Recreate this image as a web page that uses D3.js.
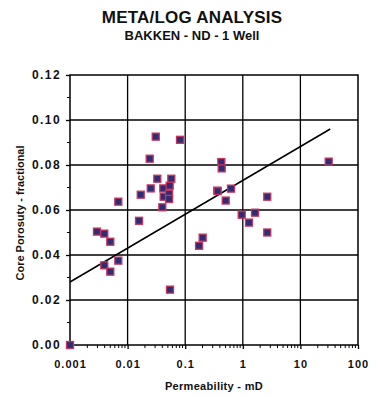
<!DOCTYPE html>
<html>
<head>
<meta charset="utf-8">
<script src="https://cdn.jsdelivr.net/npm/d3@7"></script>
<style>
  body { margin: 0; background: #fff; }
  text { font-family: "Liberation Sans", Arial, sans-serif; fill: #111; }
</style>
</head>
<body>
<svg id="chart" width="379" height="398"></svg>
<script>
// permeability (mD) and core porosity (fraction)
const perm = [0.001, 0.00294, 0.00394, 0.00394, 0.00501, 0.00501, 0.0069, 0.0069,
  0.0158, 0.0169, 0.0242, 0.0252, 0.0308, 0.0328, 0.0401, 0.0417, 0.0423, 0.0524,
  0.0525, 0.0538, 0.0545, 0.0574, 0.0813, 0.174, 0.201, 0.36, 0.366, 0.424, 0.43,
  0.505, 0.624, 0.957, 1.28, 1.63, 2.66, 2.66, 31];
const poro = [0.000, 0.0504, 0.0495, 0.0354, 0.0459, 0.0326, 0.0637, 0.0375,
  0.0552, 0.0668, 0.0828, 0.0696, 0.0926, 0.0739, 0.0612, 0.0696, 0.0659, 0.0672,
  0.0649, 0.0708, 0.0246, 0.0739, 0.0912, 0.0441, 0.0477, 0.0686, 0.0684, 0.0813, 0.0785,
  0.0642, 0.0695, 0.0579, 0.0544, 0.0588, 0.0659, 0.0500, 0.0815];

// fitted trend line end points
const trendPerm = [0.001, 33];
const trendPoro = [0.028, 0.096];

const xTicks = [0.001, 0.01, 0.1, 1, 10, 100];
const xTickLabels = ["0.001", "0.01", "0.1", "1", "10", "100"];
const yTicks = [0, 0.02, 0.04, 0.06, 0.08, 0.10, 0.12];

const svg = d3.select("#chart");
const pL = 70, pR = 358, pT = 75, pB = 345;

const x = d3.scaleLog().domain([0.001, 100]).range([pL, pR]);
const y = d3.scaleLinear().domain([0, 0.12]).range([pB, pT]);

// titles
svg.append("text")
  .attr("x", 192).attr("y", 23)
  .attr("text-anchor", "middle")
  .style("font-size", "17px").style("font-weight", "bold")
  .style("letter-spacing", "0.2px")
  .text("META/LOG ANALYSIS");
svg.append("text")
  .attr("x", 192).attr("y", 40)
  .attr("text-anchor", "middle")
  .style("font-size", "13px").style("font-weight", "bold")
  .text("BAKKEN - ND - 1 Well");

// grid
const grid = svg.append("g").attr("stroke", "#000").attr("stroke-width", 1.3);
grid.selectAll(".gx").data(xTicks.slice(1, -1)).enter().append("line")
  .attr("x1", d => x(d)).attr("x2", d => x(d))
  .attr("y1", pT).attr("y2", pB);
grid.selectAll(".gy").data(yTicks.slice(1, -1)).enter().append("line")
  .attr("x1", pL).attr("x2", pR)
  .attr("y1", d => y(d)).attr("y2", d => y(d));

svg.append("rect")
  .attr("x", pL).attr("y", pT)
  .attr("width", pR - pL).attr("height", pB - pT)
  .attr("fill", "none").attr("stroke", "#000").attr("stroke-width", 1.5);

// x axis: decades with minor ticks hanging down
const minorX = [];
for (let e = -3; e < 2; e++) for (let m = 2; m <= 9; m++) minorX.push(m * Math.pow(10, e));

const xAxis = svg.append("g").attr("transform", `translate(0,${pB})`)
  .call(d3.axisBottom(x).tickValues(xTicks).tickSize(4).tickPadding(11)
    .tickFormat((d, i) => xTickLabels[i]));
xAxis.select(".domain").remove();
xAxis.selectAll("line").attr("stroke", "#000").attr("stroke-width", 1.3);
xAxis.selectAll("text").style("font-size", "11px").style("font-weight", "bold")
  .style("letter-spacing", "1px")
  .style("font-family", "Liberation Sans, Arial, sans-serif");

svg.append("g").selectAll("line").data(minorX).enter().append("line")
  .attr("x1", d => x(d)).attr("x2", d => x(d))
  .attr("y1", pB).attr("y2", pB + 3)
  .attr("stroke", "#000").attr("stroke-width", 1);

// y axis
const yAxis = svg.append("g").attr("transform", `translate(${pL},0)`)
  .call(d3.axisLeft(y).tickValues(yTicks).tickSize(4).tickPadding(5)
    .tickFormat(d3.format(".2f")));
yAxis.select(".domain").remove();
yAxis.selectAll("line").attr("stroke", "#000").attr("stroke-width", 1.3);
yAxis.selectAll("text").style("font-size", "12px").style("font-weight", "bold")
  .style("letter-spacing", "1.4px")
  .style("font-family", "Liberation Sans, Arial, sans-serif");

const minorY = d3.range(0.01, 0.12, 0.02);
svg.append("g").selectAll("line").data(minorY).enter().append("line")
  .attr("x1", pL - 3).attr("x2", pL)
  .attr("y1", d => y(d)).attr("y2", d => y(d))
  .attr("stroke", "#000").attr("stroke-width", 1);

// axis titles
svg.append("text")
  .attr("x", (pL + pR) / 2).attr("y", 390)
  .attr("text-anchor", "middle")
  .style("font-size", "11px").style("font-weight", "bold")
  .style("letter-spacing", "0.3px")
  .text("Permeability - mD");
svg.append("text")
  .attr("transform", `translate(24,${(pT + pB) / 2 + 3}) rotate(-90)`)
  .attr("text-anchor", "middle")
  .style("font-size", "11px").style("font-weight", "bold")
  .text("Core Porosuty - fractional");

// trend line
svg.append("line")
  .attr("x1", x(trendPerm[0])).attr("y1", y(trendPoro[0]))
  .attr("x2", x(trendPerm[1])).attr("y2", y(trendPoro[1]))
  .attr("stroke", "#000").attr("stroke-width", 1.5);

// points
const sz = 7;
svg.append("g").selectAll("rect").data(perm).enter().append("rect")
  .attr("x", (d, i) => x(d) - sz / 2)
  .attr("y", (d, i) => y(poro[i]) - sz / 2)
  .attr("width", sz).attr("height", sz)
  .attr("fill", "#2d2c74")
  .attr("stroke", "#c6345e").attr("stroke-width", 1.3);
</script>
</body>
</html>
